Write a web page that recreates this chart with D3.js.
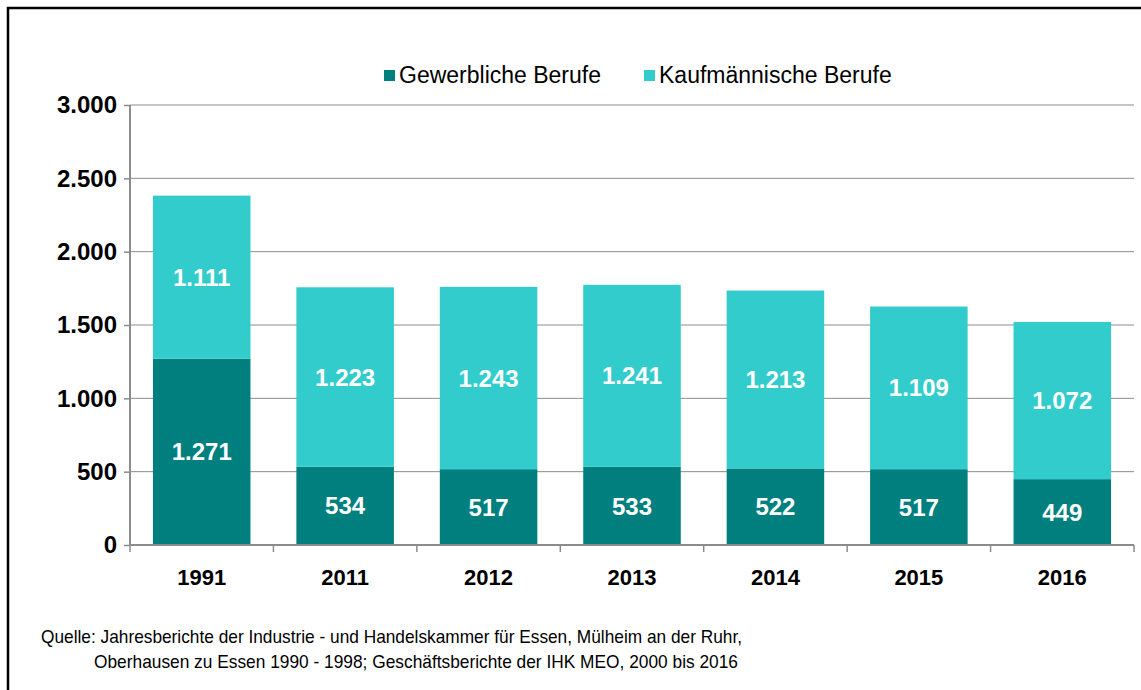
<!DOCTYPE html>
<html>
<head>
<meta charset="utf-8">
<script src="https://cdn.jsdelivr.net/npm/d3@7"></script>
<style>
  body { margin: 0; background: #fff; }
  svg { display: block; font-family: "Liberation Sans", Arial, sans-serif; }
</style>
</head>
<body>
<div id="vis-container"></div>
<script>
// data
let years = ["1991", "2011", "2012", "2013", "2014", "2015", "2016"];
let gewerblich = [1271, 534, 517, 533, 522, 517, 449];
let kaufmaennisch = [1111, 1223, 1243, 1241, 1213, 1109, 1072];
let seriesNames = ["Gewerbliche Berufe", "Kaufmännische Berufe"];
let yTicks = [0, 500, 1000, 1500, 2000, 2500, 3000];

let colors = ["#007f7f", "#33cccc"];

let W = 1141, H = 690;
let margin = {top: 105, right: 7, bottom: 145, left: 130};
let width = W - margin.left - margin.right;
let height = H - margin.top - margin.bottom;

let svg = d3.select("#vis-container")
  .append("svg")
  .attr("width", W)
  .attr("height", H);

// frame
svg.append("path")
  .attr("d", `M8,${H} L8,8 L${W},8`)
  .attr("fill", "none")
  .attr("stroke", "#000")
  .attr("stroke-width", 2.5);

let g = svg.append("g")
  .attr("transform", `translate(${margin.left}, ${margin.top})`);

let x = d3.scaleBand()
  .domain(years)
  .range([0, width])
  .paddingInner(0.32)
  .paddingOuter(0.16);

let y = d3.scaleLinear()
  .domain([0, 3000])
  .range([height, 0]);

// grid
g.selectAll(".grid")
  .data(yTicks.slice(1))
  .enter()
  .append("line")
  .attr("class", "grid")
  .attr("x1", 0)
  .attr("x2", width)
  .attr("y1", d => y(d))
  .attr("y2", d => y(d))
  .attr("stroke", "#8c8c8c")
  .attr("stroke-width", 1);

// stacked data
let table = years.map((yr, i) => ({year: yr, g: gewerblich[i], k: kaufmaennisch[i]}));
let stack = d3.stack().keys(["g", "k"])(table);

let layers = g.selectAll(".layer")
  .data(stack)
  .enter()
  .append("g")
  .attr("fill", (d, i) => colors[i]);

layers.selectAll("rect")
  .data(d => d)
  .enter()
  .append("rect")
  .attr("x", d => x(d.data.year))
  .attr("y", d => y(d[1]))
  .attr("width", x.bandwidth())
  .attr("height", d => y(d[0]) - y(d[1]));

// value labels
let fmt = d3.formatLocale({decimal: ",", thousands: ".", grouping: [3], currency: ["", "€"]}).format(",");

layers.selectAll("text")
  .data(d => d)
  .enter()
  .append("text")
  .attr("x", d => x(d.data.year) + x.bandwidth() / 2)
  .attr("y", d => y((d[0] + d[1]) / 2))
  .attr("dy", "0.36em")
  .attr("text-anchor", "middle")
  .attr("fill", "#fff")
  .attr("font-size", "24px")
  .attr("font-weight", "bold")
  .text(d => fmt(d[1] - d[0]));

// left axis
let leftAxis = d3.axisLeft(y)
  .tickValues(yTicks)
  .tickSize(6)
  .tickPadding(7)
  .tickFormat(d => fmt(d));

let ga = g.append("g")
  .attr("class", "left axis")
  .call(leftAxis);
ga.select(".domain").attr("stroke", "#8c8c8c").attr("stroke-width", 2).attr("d", `M0,0V${height}`);
ga.selectAll(".tick line").attr("stroke", "#8c8c8c").attr("stroke-width", 1.5);
ga.selectAll("text")
  .attr("font-size", "24px")
  .attr("font-weight", "bold")
  .attr("fill", "#000");

// bottom axis
let bx = g.append("g")
  .attr("class", "bottom axis")
  .attr("transform", `translate(0, ${height})`);

bx.append("line")
  .attr("x1", 0).attr("x2", width)
  .attr("stroke", "#8c8c8c").attr("stroke-width", 2);

let bounds = d3.range(years.length + 1).map(i => i * width / years.length);
bx.selectAll(".sep")
  .data(bounds)
  .enter()
  .append("line")
  .attr("x1", d => d).attr("x2", d => d)
  .attr("y1", 0).attr("y2", 7)
  .attr("stroke", "#8c8c8c").attr("stroke-width", 1.5);

bx.selectAll(".cat")
  .data(years)
  .enter()
  .append("text")
  .attr("x", d => x(d) + x.bandwidth() / 2)
  .attr("y", 40)
  .attr("text-anchor", "middle")
  .attr("font-size", "22px")
  .attr("font-weight", "bold")
  .text(d => d);

// legend
let legendX = [384, 644];
let legend = svg.selectAll(".legend")
  .data(seriesNames)
  .enter()
  .append("g")
  .attr("transform", (d, i) => `translate(${legendX[i]}, 75)`);

legend.append("rect")
  .attr("x", 0).attr("y", -5)
  .attr("width", 11).attr("height", 11)
  .attr("fill", (d, i) => colors[i]);

legend.append("text")
  .attr("x", 15)
  .attr("y", 0)
  .attr("dy", "0.36em")
  .attr("font-size", "23px")
  .text(d => d);

// source
let source = svg.append("text")
  .attr("font-size", "19px")
  .attr("fill", "#000");
source.append("tspan")
  .attr("x", 41).attr("y", 643)
  .attr("textLength", 701).attr("lengthAdjust", "spacingAndGlyphs")
  .text("Quelle: Jahresberichte der Industrie - und Handelskammer für Essen, Mülheim an der Ruhr,");
source.append("tspan")
  .attr("x", 94).attr("y", 668)
  .attr("textLength", 644).attr("lengthAdjust", "spacingAndGlyphs")
  .text("Oberhausen zu Essen 1990 - 1998; Geschäftsberichte der IHK MEO, 2000 bis 2016");
</script>
</body>
</html>
